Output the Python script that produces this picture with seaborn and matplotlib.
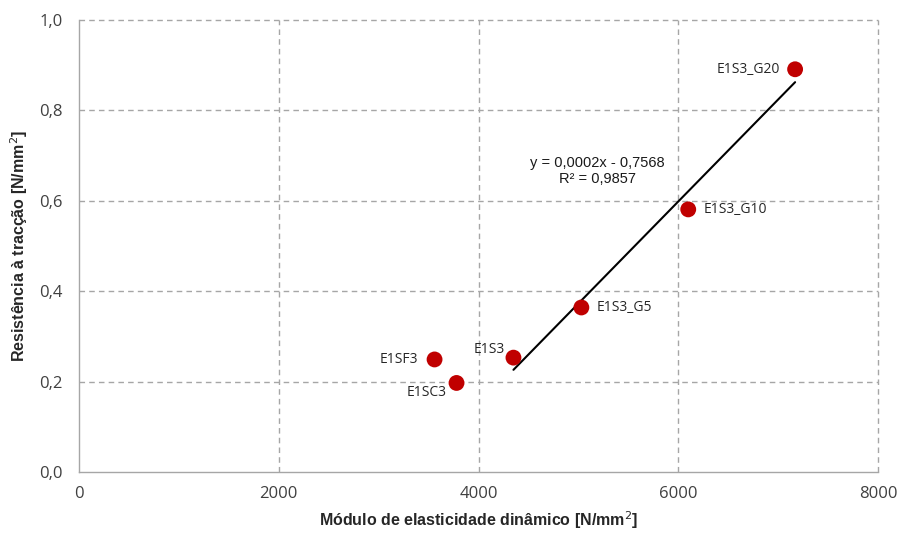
import numpy as np
import pandas as pd
import matplotlib
matplotlib.use("Agg")
import matplotlib.pyplot as plt
import seaborn as sns

# Dynamic modulus of elasticity vs. tensile strength per mix
labels = ["E1SF3", "E1SC3", "E1S3", "E1S3_G5", "E1S3_G10", "E1S3_G20"]
modulus = [3560, 3780, 4350, 5030, 6100, 7170]
strength = [0.249, 0.197, 0.253, 0.364, 0.581, 0.891]
# mixes included in the linear trend
trend_labels = ["E1S3", "E1S3_G5", "E1S3_G10", "E1S3_G20"]

x_ticks = [0, 2000, 4000, 6000, 8000]
y_ticks = [0.0, 0.2, 0.4, 0.6, 0.8, 1.0]
y_tick_labels = ["0,0", "0,2", "0,4", "0,6", "0,8", "1,0"]

df = pd.DataFrame({"label": labels, "E": modulus, "ft": strength})
trend = df[df["label"].isin(trend_labels)]

sns.set_style("white")
plt.rcParams["font.family"] = ["Open Sans", "DejaVu Sans"]

fig = plt.figure(figsize=(8.98, 5.34), dpi=100)
ax = fig.add_axes([79 / 898, 62 / 534, 799 / 898, 452 / 534])

grid_kw = dict(color="#a6a6a6", linestyle=(0, (4, 3)), linewidth=1.0,
               zorder=0, clip_on=False)
for xv in x_ticks[1:]:
    ax.axvline(xv, **grid_kw)
for yv in y_ticks[1:]:
    ax.axhline(yv, **grid_kw)

sns.regplot(data=trend, x="E", y="ft", scatter=False, ci=None, truncate=True,
            color="black", line_kws=dict(linewidth=1.5, zorder=2), ax=ax)
sns.scatterplot(data=df, x="E", y="ft", color="#c00000", s=130,
                edgecolor="none", zorder=3, ax=ax)

offsets = {
    "E1SF3": (-12, 0, "right", "center"),
    "E1SC3": (-7, -7, "right", "center"),
    "E1S3": (-6, 6, "right", "center"),
    "E1S3_G5": (11, 0, "left", "center"),
    "E1S3_G10": (11, 0, "left", "center"),
    "E1S3_G20": (-11, 0, "right", "center"),
}
for lab, xv, yv in zip(labels, modulus, strength):
    dx, dy, ha, va = offsets[lab]
    ax.annotate(lab, (xv, yv), xytext=(dx, dy), textcoords="offset points",
                ha=ha, va=va, fontsize=10, color="#262626")

ax.text(5190, 0.666, "y = 0,0002x - 0,7568\nR² = 0,9857", ha="center",
        va="center", fontsize=10.5, family=["Liberation Sans", "DejaVu Sans"],
        linespacing=1.2, color="#1a1a1a")

ax.set_xlim(0, 8000)
ax.set_ylim(0, 1.0)
ax.set_xticks(x_ticks)
ax.set_yticks(y_ticks)
ax.set_yticklabels(y_tick_labels)
ax.tick_params(axis="both", labelsize=12, colors="#404040", length=4,
               color="#a6a6a6", direction="out")
ax.tick_params(axis="x", pad=6)
ax.tick_params(axis="y", pad=8)

for side in ["top", "right"]:
    ax.spines[side].set_visible(False)
for side in ["left", "bottom"]:
    ax.spines[side].set_color("#a6a6a6")
    ax.spines[side].set_linewidth(1.0)

label_font = dict(fontsize=11.5, fontweight="bold",
                  family=["Liberation Sans", "DejaVu Sans"])
ax.set_xlabel("Módulo de elasticidade dinâmico [N/mm$^2$]", labelpad=5, **label_font)
ax.set_ylabel("Resistência à tracção [N/mm$^2$]", labelpad=6, **label_font)

fig.savefig("out.png", dpi=100, facecolor="white")
